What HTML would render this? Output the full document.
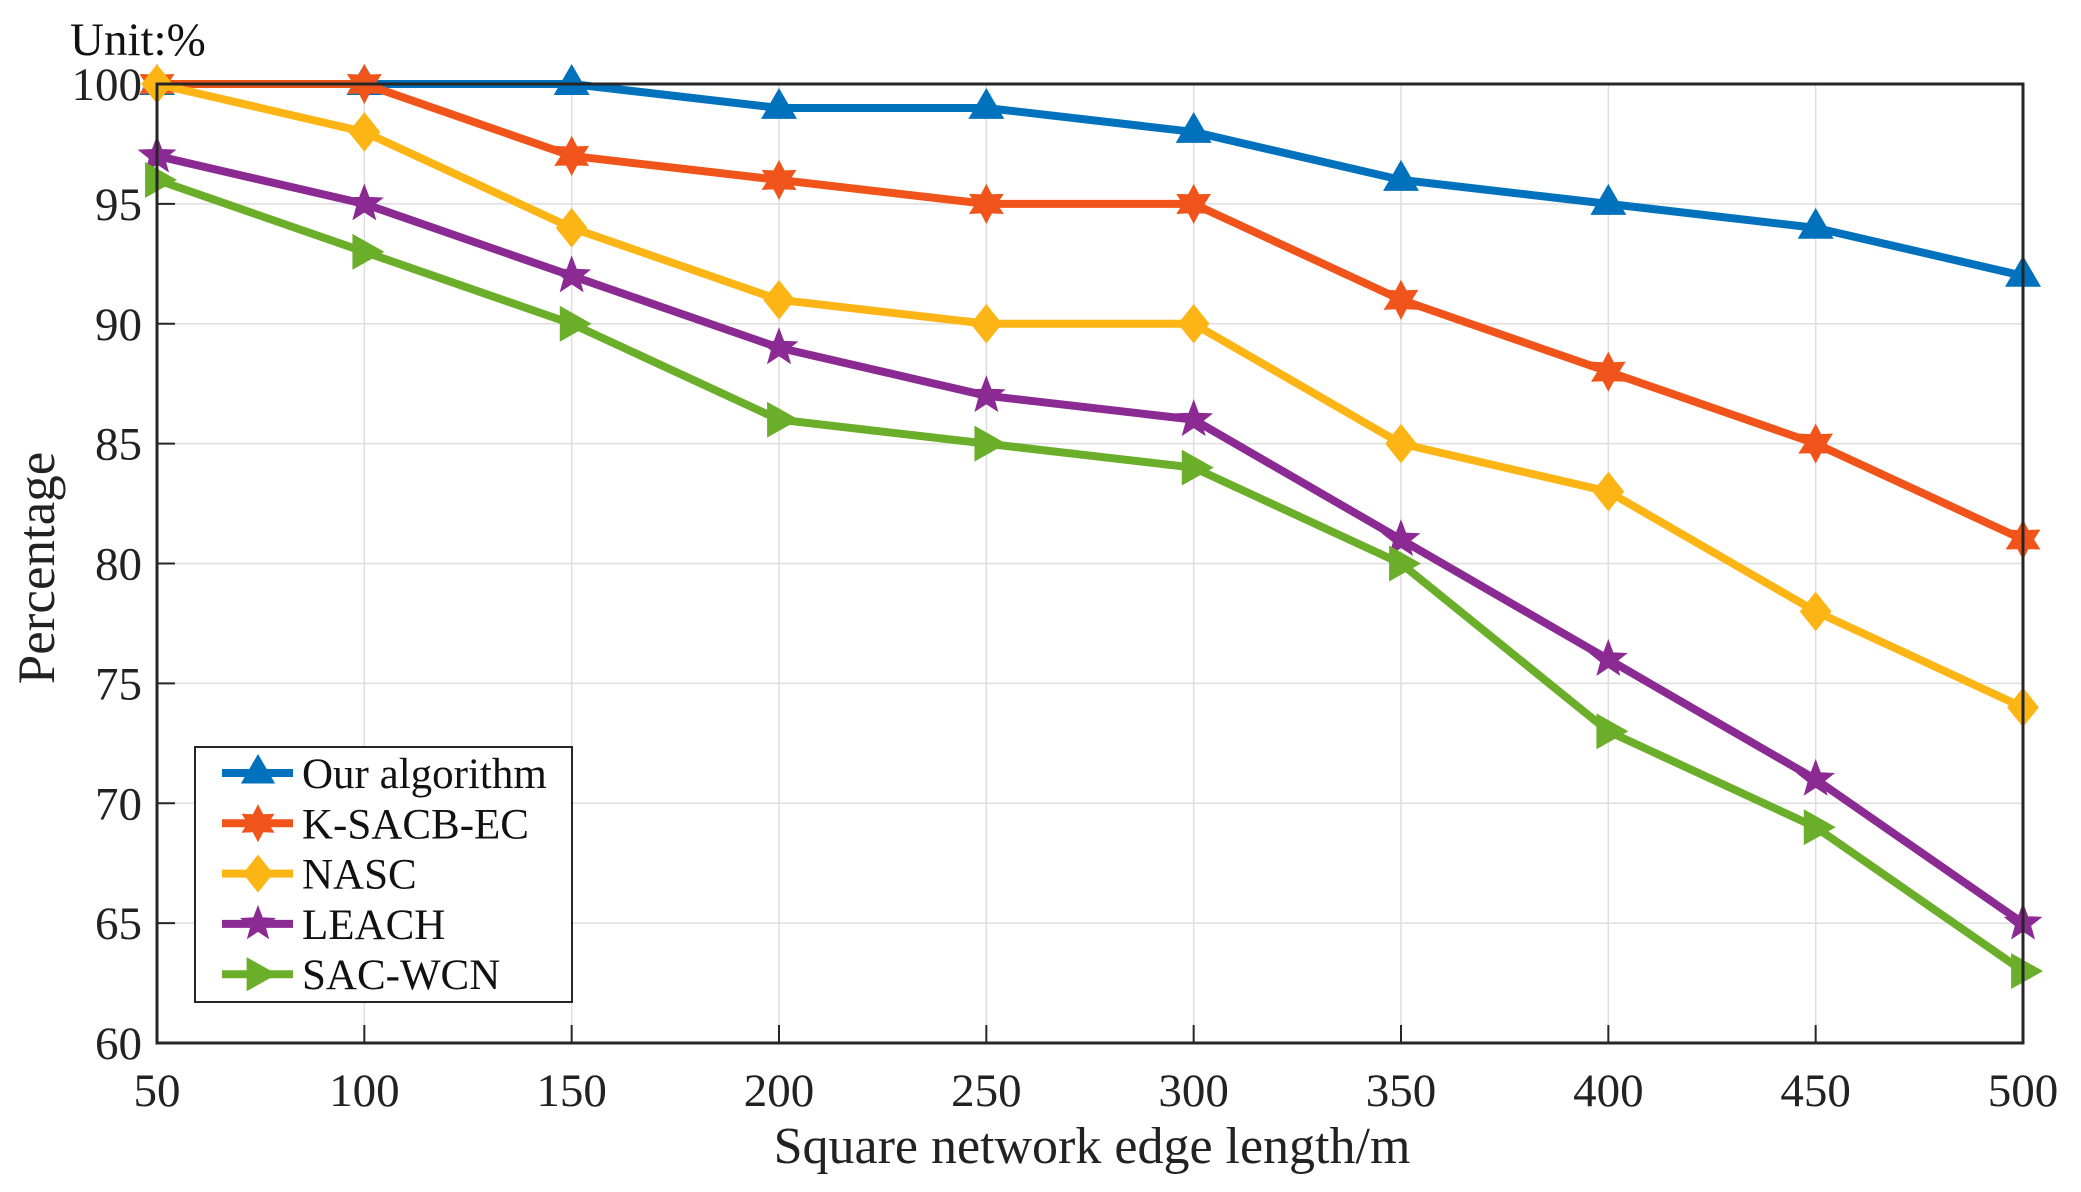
<!DOCTYPE html>
<html><head><meta charset="utf-8"><style>
html,body{margin:0;padding:0;background:#fff;}
svg{display:block;font-family:"Liberation Serif",serif;}
</style></head><body>
<svg id="chart" width="2081" height="1192" viewBox="0 0 2081 1192">
<g id="grid"></g>
<g id="series"></g>
<rect x="157" y="84" width="1866" height="959" fill="none" stroke="#262626" stroke-width="3"/>
<g id="ticks"></g>
<text x="70" y="55" font-size="47" fill="#111">Unit:%</text>
<text x="1092" y="1163" font-size="52" text-anchor="middle" fill="#222">Square network edge length/m</text>
<text transform="translate(54,568) rotate(-90)" font-size="53" text-anchor="middle" fill="#222">Percentage</text>
<g id="legend"></g>
</svg>
<script>
const categories=[50,100,150,200,250,300,350,400,450,500];
const yTicks=[60,65,70,75,80,85,90,95,100];
const seriesNames=["Our algorithm","K-SACB-EC","NASC","LEACH","SAC-WCN"];
const ourValues=[100,100,100,99,99,98,96,95,94,92];
const ksacbValues=[100,100,97,96,95,95,91,88,85,81];
const nascValues=[100,98,94,91,90,90,85,83,78,74];
const leachValues=[97,95,92,89,87,86,81,76,71,65];
const sacValues=[96,93,90,86,85,84,80,73,69,63];

const X0=157,X1=2023,Y0=1043,Y1=84;
const xs=v=>X0+(v-50)/450*(X1-X0);
const ys=v=>Y0-(v-60)/40*(Y0-Y1);
const NS="http://www.w3.org/2000/svg";
function mk(tag,attrs,parent){const e=document.createElementNS(NS,tag);for(const k in attrs)e.setAttribute(k,attrs[k]);parent.appendChild(e);return e;}
const grid=document.getElementById('grid'),ticks=document.getElementById('ticks');
categories.forEach(c=>{
 const x=xs(c);
 const g=mk('line',{x1:x,x2:x,y1:Y1,y2:Y0,stroke:'#dedede','stroke-width':1.5},grid);
 
 
 const t=mk('line',{x1:x,x2:x,y1:Y0,y2:Y0-18,stroke:'#262626','stroke-width':2},ticks);
 
 
 const l=mk('text',{x:x,y:1106,'font-size':47,'text-anchor':'middle',fill:'#222'},ticks);
 l.textContent=c;
 
 
});
yTicks.forEach(v=>{
 const y=ys(v);
 const g=mk('line',{x1:X0,x2:X1,y1:y,y2:y,stroke:'#dedede','stroke-width':1.5},grid);
 
 
 const t=mk('line',{x1:X0,x2:X0+18,y1:y,y2:y,stroke:'#262626','stroke-width':2},ticks);
 
 
 const l=mk('text',{x:142,y:y+16,'font-size':47,'text-anchor':'end',fill:'#222'},ticks);
 l.textContent=v;
 
 
});
const colors=["#0072BD","#F0541A","#FDB515","#8B2A92","#6AAE2A"];
const markers=["tri","hex","diamond","star","right"];
const allValues=[ourValues,ksacbValues,nascValues,leachValues,sacValues];
function markerPath(type,x,y){
 const r=19;
 if(type==='tri')return `M${x},${y-r} L${x+r*0.9},${y+r*0.55} L${x-r*0.9},${y+r*0.55}Z`;
 if(type==='diamond')return `M${x},${y-r} L${x+r*0.8},${y} L${x},${y+r} L${x-r*0.8},${y}Z`;
 if(type==='right')return `M${x+r},${y} L${x-r*0.6},${y-r*0.9} L${x-r*0.6},${y+r*0.9}Z`;
 let pts=[],n=type==='star'?5:6,ri=type==='star'?r*0.42:r*0.55;
 for(let i=0;i<2*n;i++){const a=-Math.PI/2+i*Math.PI/n;const rr=i%2?ri:r;pts.push((x+rr*Math.cos(a)).toFixed(1)+','+(y+rr*Math.sin(a)).toFixed(1));}
 return 'M'+pts.join(' L')+'Z';
}
const sg=document.getElementById('series');
allValues.forEach((vals,si)=>{
 const g=mk('g',{},sg);
 
 
 const d=vals.map((v,i)=>(i?'L':'M')+xs(categories[i])+','+ys(v)).join(' ');
 const p=mk('path',{d:d,fill:'none',stroke:colors[si],'stroke-width':8,'stroke-linejoin':'round'},g);
 
 
 vals.forEach((v,i)=>{
  const m=mk('path',{d:markerPath(markers[si],xs(categories[i]),ys(v)),fill:colors[si],stroke:colors[si],'stroke-width':1},g);
  
  
 });
});
const lg=document.getElementById('legend');
const box=mk('rect',{x:195,y:747,width:377,height:255,fill:'#fff',stroke:'#262626','stroke-width':2},lg);


seriesNames.forEach((n,i)=>{
 const y=773+i*50.3;
 const e=mk('g',{},lg);
 
 
 mk('line',{x1:222,x2:293,y1:y,y2:y,stroke:colors[i],'stroke-width':8},e);
 mk('path',{d:markerPath(markers[i],258,y),fill:colors[i]},e);
 const t=mk('text',{x:302,y:y+15,'font-size':43,fill:'#111'},e);
 t.textContent=n;
});
</script>
</body></html>
